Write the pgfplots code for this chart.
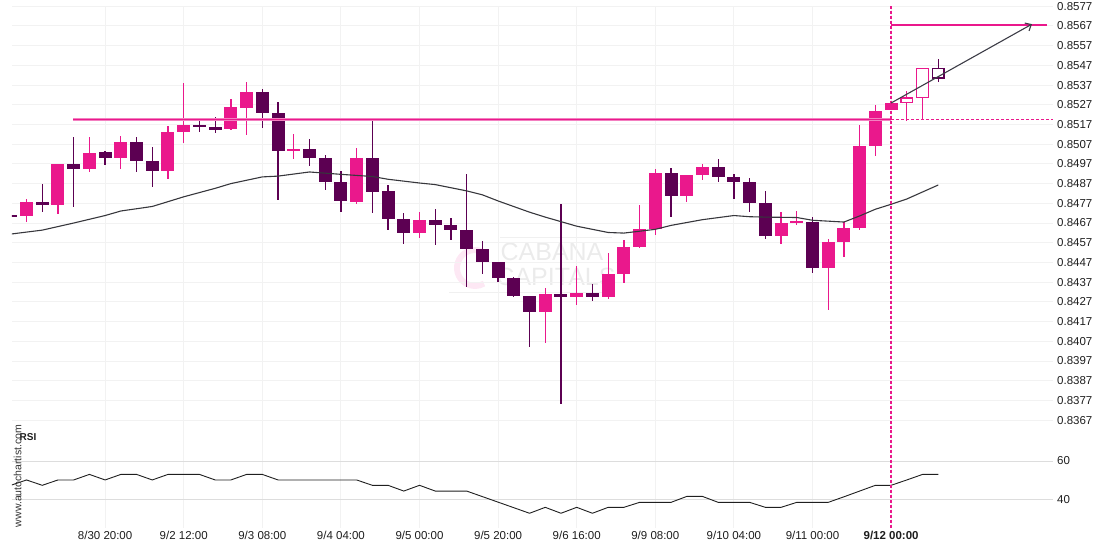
\documentclass[border=0pt]{standalone}
\usepackage{fontspec}
\setmainfont{Liberation Sans}
\usepackage{pgfplots}
\pgfplotsset{compat=1.18}
\usepackage{pgfplotstable}
\usetikzlibrary{arrows.meta}
\definecolor{cpink}{RGB}{234,24,140}
\definecolor{cdark}{RGB}{92,0,82}
\definecolor{cgrid}{RGB}{242,242,242}
\definecolor{rgrid}{RGB}{221,221,221}
\definecolor{txt}{RGB}{30,30,30}
\definecolor{maline}{RGB}{55,55,60}
\definecolor{arrowc}{RGB}{60,60,70}

% bullish candles (filled pink)
\pgfplotstableread{
k o h l c
1 0.84705 0.84792 0.84675 0.84776
3 0.84761 0.84972 0.84716 0.84969
5 0.84944 0.85106 0.84929 0.85025
7 0.85000 0.85111 0.84944 0.85081
10 0.84934 0.85162 0.84893 0.85132
11 0.85132 0.85380 0.85076 0.85167
14 0.85147 0.85299 0.85142 0.85258
15 0.85253 0.85385 0.85116 0.85335
18 0.85035 0.85122 0.84995 0.85045
22 0.84776 0.85050 0.84766 0.85000
26 0.84619 0.84726 0.84594 0.84685
34 0.84218 0.84340 0.84061 0.84310
36 0.84295 0.84452 0.84254 0.84315
38 0.84295 0.84518 0.84284 0.84411
39 0.84411 0.84584 0.84366 0.84548
40 0.84548 0.84761 0.84543 0.84640
41 0.84640 0.84944 0.84609 0.84924
43 0.84807 0.84913 0.84776 0.84913
44 0.84913 0.84969 0.84888 0.84954
49 0.84604 0.84726 0.84564 0.84670
50 0.84670 0.84731 0.84660 0.84680
52 0.84442 0.84589 0.84229 0.84574
53 0.84574 0.84675 0.84497 0.84645
54 0.84645 0.85167 0.84634 0.85061
55 0.85061 0.85269 0.85010 0.85238
56 0.85241 0.85279 0.85241 0.85279
}\bull

% bearish candles (filled dark)
\pgfplotstableread{
k o h l c
0 0.84713 0.84721 0.84695 0.84705
2 0.84776 0.84868 0.84726 0.84761
4 0.84969 0.85106 0.84751 0.84944
6 0.85030 0.85035 0.84964 0.85000
8 0.85081 0.85106 0.84929 0.84984
9 0.84984 0.85055 0.84853 0.84934
12 0.85170 0.85192 0.85132 0.85157
13 0.85157 0.85208 0.85127 0.85144
16 0.85335 0.85350 0.85152 0.85228
17 0.85228 0.85284 0.84787 0.85035
19 0.85045 0.85096 0.84959 0.85000
20 0.85000 0.85015 0.84838 0.84878
21 0.84878 0.84934 0.84726 0.84782
23 0.85000 0.85198 0.84721 0.84827
24 0.84833 0.84863 0.84635 0.84690
25 0.84690 0.84721 0.84564 0.84619
27 0.84685 0.84741 0.84559 0.84660
28 0.84660 0.84695 0.84584 0.84634
29 0.84634 0.84918 0.84345 0.84538
30 0.84538 0.84579 0.84411 0.84472
31 0.84472 0.84472 0.84371 0.84391
32 0.84391 0.84396 0.84295 0.84300
33 0.84300 0.84300 0.84041 0.84218
35 0.84310 0.84766 0.83752 0.84295
37 0.84315 0.84361 0.84274 0.84295
42 0.84924 0.84949 0.84700 0.84807
45 0.84954 0.84995 0.84878 0.84903
46 0.84903 0.84918 0.84792 0.84878
47 0.84878 0.84898 0.84726 0.84771
48 0.84771 0.84833 0.84589 0.84604
51 0.84675 0.84700 0.84416 0.84442
}\bear

\begin{document}
\begin{tikzpicture}[x=1pt,y=1pt]
\useasboundingbox (0,0) rectangle (1110,550);
% watermark
\draw[cpink!10, line width=6pt] (484,297.6) arc[start angle=60, end angle=300, radius=18];
\node[text=black!8, font=\fontsize{25}{25}\selectfont] at (552,298) {CABANA};
\node[text=black!8, font=\fontsize{25}{25}\selectfont] at (556,273) {CAPITALS};
\draw[black!6, line width=1pt] (500,313) -- (612,313);
\draw[black!6, line width=1pt] (449,258) -- (612,258);

\begin{axis}[
  at={(12pt,120pt)}, anchor=south west, scale only axis,
  width=1041pt, height=424pt,
  xmin=0.0763, xmax=66.3, ymin=0.83620, ymax=0.85771,
  axis line style={draw=none}, major tick length=0pt,
  xtick={6,11,16,21,26,31,36,41,46,51,56}, xticklabel=\empty,
  ytick={0.8367,0.8377,0.8387,0.8397,0.8407,0.8417,0.8427,0.8437,0.8447,0.8457,0.8467,0.8477,0.8487,0.8497,0.8507,0.8517,0.8527,0.8537,0.8547,0.8557,0.8567,0.8577},
  yticklabels={0.8367,0.8377,0.8387,0.8397,0.8407,0.8417,0.8427,0.8437,0.8447,0.8457,0.8467,0.8477,0.8487,0.8497,0.8507,0.8517,0.8527,0.8537,0.8547,0.8557,0.8567,0.8577},
  yticklabel pos=right,
  yticklabel style={anchor=west, inner sep=0pt, xshift=4pt, font=\fontsize{11.5}{13}\selectfont, text=txt},
  xmajorgrids, ymajorgrids,
  major grid style={cgrid, line width=1pt},
]
% wicks
\addplot[draw=none, mark=none, forget plot, error bars/.cd, y dir=both, y explicit, error mark=none,
  error bar style={draw=cpink, line width=1.3pt}]
  table[x=k, y expr={(\thisrow{h}+\thisrow{l})/2}, y error expr={(\thisrow{h}-\thisrow{l})/2}] {\bull};
\addplot[draw=none, mark=none, forget plot, error bars/.cd, y dir=both, y explicit, error mark=none,
  error bar style={draw=cdark, line width=1.3pt}]
  table[x=k, y expr={(\thisrow{h}+\thisrow{l})/2}, y error expr={(\thisrow{h}-\thisrow{l})/2}] {\bear};
% bodies
\addplot[draw=none, mark=none, forget plot, error bars/.cd, y dir=both, y explicit, error mark=none,
  error bar style={draw=cpink, line width=13pt}]
  table[x=k, y expr={(\thisrow{o}+\thisrow{c})/2}, y error expr={abs(\thisrow{o}-\thisrow{c})/2}] {\bull};
\addplot[draw=none, mark=none, forget plot, error bars/.cd, y dir=both, y explicit, error mark=none,
  error bar style={draw=cdark, line width=13pt}]
  table[x=k, y expr={(\thisrow{o}+\thisrow{c})/2}, y error expr={abs(\thisrow{o}-\thisrow{c})/2}] {\bear};
% hollow candles
\addplot[draw=cpink, line width=1.3pt] coordinates {(57,0.85339) (57,0.85187)};
\addplot[draw=cpink, line width=1.3pt] coordinates {(58,0.85455) (58,0.85196)};
\addplot[draw=cdark, line width=1.3pt] coordinates {(59,0.85502) (59,0.85385)};
\addplot[draw=cpink, fill=white, line width=1.3pt] coordinates {(56.628,0.85281) (57.372,0.85281) (57.372,0.85304) (56.628,0.85304) (56.628,0.85281)};
\addplot[draw=cpink, fill=white, line width=1.3pt] coordinates {(57.628,0.85306) (58.372,0.85306) (58.372,0.85455) (57.628,0.85455) (57.628,0.85306)};
\addplot[draw=cdark, fill=white, line width=1.3pt] coordinates {(58.628,0.85406) (59.372,0.85406) (59.372,0.85455) (58.628,0.85455) (58.628,0.85406)};
% moving average
\addplot[draw=maline, line width=1.1pt] coordinates {
(0,0.84614) (2,0.84634) (4,0.84670) (6,0.84708) (7,0.84731) (9,0.84754) (11,0.84803)
(13,0.84846) (14,0.84870) (16,0.84904) (17,0.84908) (19,0.84929) (21,0.84917) (23,0.84906)
(24,0.84892) (26,0.84873) (27,0.84865) (29,0.84833) (30,0.84813) (31,0.84782) (33,0.84725)
(34,0.84700) (35,0.84677) (36,0.84654) (38,0.84622) (39,0.84619) (41,0.84638) (42,0.84658)
(44,0.84687) (46,0.84708) (47,0.84702) (48,0.84700) (50,0.84698) (51,0.84684) (53,0.84675)
(54,0.84706) (55,0.84740) (56,0.84765) (57,0.84792) (59,0.84863)};
% resistance line
\addplot[draw=cpink!55, line width=3pt] coordinates {(3.96,0.85196) (56,0.85196)};
\addplot[draw=cpink, line width=1.25pt] coordinates {(3.96,0.85196) (56,0.85196)};
\addplot[draw=cpink, line width=1.25pt, dash pattern=on 3pt off 2pt] coordinates {(56,0.85196) (66.3,0.85196)};
% target
\addplot[draw=cpink, line width=1.25pt] coordinates {(56,0.85674) (65.9,0.85674)};
\addplot[draw=cpink, line width=1.25pt, dash pattern=on 3pt off 2pt] coordinates {(56,0.8577) (56,0.8362)};
\addplot[draw=arrowc, line width=1.1pt, -{Straight Barb[length=5pt, width=9pt]}] coordinates {(56,0.85279) (64.96,0.85679)};
\end{axis}

\begin{axis}[
  at={(12pt,22pt)}, anchor=south west, scale only axis,
  width=1041pt, height=98pt,
  xmin=0.0763, xmax=66.3, ymin=25.0, ymax=76.19,
  axis line style={draw=none}, major tick length=0pt,
  xtick={6,11,16,21,26,31,36,41,46,51,56},
  xticklabels={8/30 20:00, 9/2 12:00, 9/3 08:00, 9/4 04:00, 9/5 00:00, 9/5 20:00, 9/6 16:00, 9/9 08:00, 9/10 04:00, 9/11 00:00, \textbf{9/12 00:00}},
  xticklabel style={anchor=north, inner sep=0pt, yshift=-3pt, font=\fontsize{11.5}{13}\selectfont, text=txt},
  ytick={40,60}, yticklabels={40,60},
  yticklabel pos=right,
  yticklabel style={anchor=west, inner sep=0pt, xshift=4pt, font=\fontsize{11.5}{13}\selectfont, text=txt},
  xmajorgrids, ymajorgrids,
  major x grid style={cgrid, line width=1pt},
  major y grid style={rgrid, line width=1pt},
]
\addplot[draw=black!88, line width=0.9pt] coordinates {
(0,47.3) (1,50.1) (2,47.3) (3,50.1) (4,50.1) (5,53.0) (6,50.1) (7,53.0) (8,53.0) (9,50.1)
(10,53.0) (11,53.0) (12,53.0) (13,50.1) (14,50.1) (15,53.0) (16,53.0) (17,50.1) (18,50.1) (19,50.1)
(20,50.1) (21,50.1) (22,50.1) (23,47.3) (24,47.3) (25,44.3) (26,47.3) (27,44.3) (28,44.3) (29,44.3)
(30,41.4) (31,38.5) (32,35.6) (33,32.7) (34,35.8) (35,32.7) (36,35.8) (37,32.7) (38,35.8) (39,35.8)
(40,38.4) (41,38.4) (42,38.4) (43,41.5) (44,41.5) (45,38.4) (46,38.4) (47,38.4) (48,35.8) (49,35.8)
(50,38.4) (51,38.4) (52,38.4) (53,41.3) (54,44.3) (55,47.3) (56,47.3) (57,50.1) (58,53.0) (59,53.0)};
\addplot[draw=cpink, line width=1.25pt, dash pattern=on 3pt off 2pt] coordinates {(56,76.19) (56,25)};
\end{axis}

\node[anchor=west, inner sep=0pt, font=\bfseries\fontsize{10}{10}\selectfont, text=txt] at (19.5,112.5) {RSI};
\node[rotate=90, inner sep=0pt, font=\fontsize{10.5}{10.5}\selectfont, text=black!80] at (17.5,74) {www.autochartist.com};
\end{tikzpicture}
\end{document}
